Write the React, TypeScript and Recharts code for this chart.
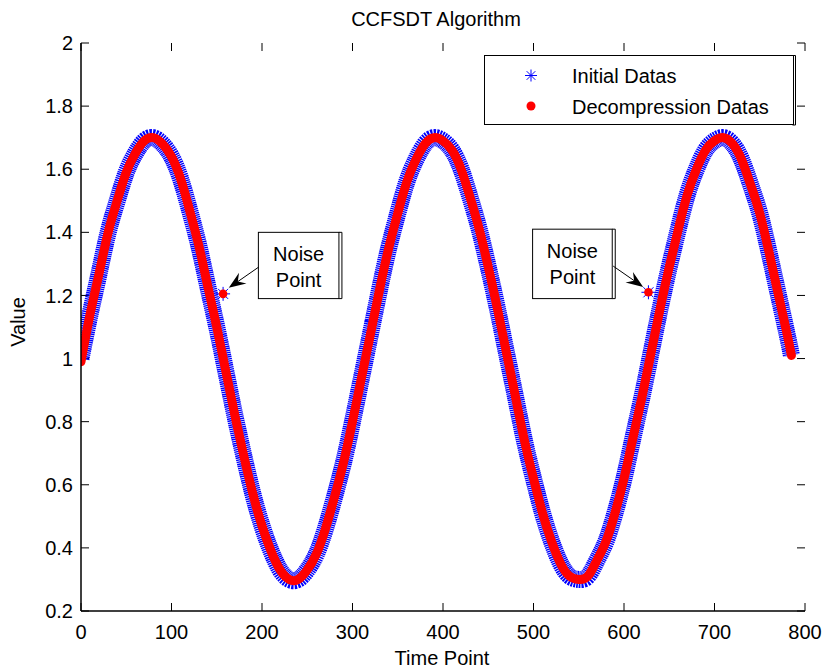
import React from 'react';
import {
  ComposedChart,
  Line,
  Scatter,
  XAxis,
  YAxis,
  ReferenceArea,
  ReferenceLine,
  Legend,
} from 'recharts';

// ---------- data ----------
const timePoints = [
  0, 10, 20, 30, 40, 50, 60, 70, 80, 90,
  100, 110, 120, 130, 140, 150, 160, 170, 180, 190,
  200, 210, 220, 230, 240, 250, 260, 270, 280, 290,
  300, 310, 320, 330, 340, 350, 360, 370, 380, 390,
  400, 410, 420, 430, 440, 450, 460, 470, 480, 490,
  500, 510, 520, 530, 540, 550, 560, 570, 580, 590,
  600, 610, 620, 630, 640, 650, 660, 670, 680, 690,
  700, 710, 720, 730, 740, 750, 760, 770, 780, 785,
];

const initialValues = [
  1.0, 1.14, 1.27, 1.4, 1.5, 1.59, 1.65, 1.69, 1.7, 1.68,
  1.64, 1.57, 1.47, 1.36, 1.23, 1.1, 0.96, 0.82, 0.69, 0.57,
  0.47, 0.39, 0.33, 0.3, 0.3, 0.33, 0.38, 0.46, 0.56, 0.67,
  0.8, 0.94, 1.08, 1.22, 1.35, 1.46, 1.56, 1.63, 1.68, 1.7,
  1.69, 1.66, 1.6, 1.51, 1.41, 1.29, 1.16, 1.02, 0.88, 0.74,
  0.62, 0.51, 0.42, 0.35, 0.31, 0.3, 0.31, 0.36, 0.42, 0.51,
  0.62, 0.75, 0.88, 1.02, 1.16, 1.29, 1.41, 1.52, 1.6, 1.66,
  1.69, 1.7, 1.68, 1.63, 1.55, 1.46, 1.34, 1.21, 1.08, 1.01,
];

const decompressionValues = [
  0.99, 1.14, 1.27, 1.4, 1.5, 1.59, 1.65, 1.69, 1.7, 1.68,
  1.64, 1.57, 1.47, 1.36, 1.23, 1.1, 0.96, 0.82, 0.69, 0.57,
  0.47, 0.39, 0.33, 0.3, 0.3, 0.33, 0.38, 0.46, 0.56, 0.67,
  0.8, 0.94, 1.08, 1.22, 1.35, 1.46, 1.56, 1.63, 1.68, 1.7,
  1.69, 1.66, 1.6, 1.51, 1.41, 1.29, 1.16, 1.02, 0.88, 0.74,
  0.62, 0.51, 0.42, 0.35, 0.31, 0.3, 0.31, 0.36, 0.42, 0.51,
  0.62, 0.75, 0.88, 1.02, 1.16, 1.29, 1.41, 1.52, 1.6, 1.66,
  1.69, 1.7, 1.68, 1.63, 1.55, 1.46, 1.34, 1.21, 1.08, 1.01,
];

const noiseTimes = [157, 627];
const noiseInitial = [1.205, 1.21];
const noiseDecompressed = [1.205, 1.21];

const xTicks = [0, 100, 200, 300, 400, 500, 600, 700, 800];
const yTicks = [0.2, 0.4, 0.6, 0.8, 1, 1.2, 1.4, 1.6, 1.8, 2];

const seriesNames = ['Initial Datas', 'Decompression Datas'];
const titleText = 'CCFSDT Algorithm';
const xLabelText = 'Time Point';
const yLabelText = 'Value';
const noteLines = ['Noise', 'Point'];

// annotation boxes and arrows, in data coordinates
const noteBoxes = [
  { x1: 196, x2: 285, y1: 1.19, y2: 1.4 },
  { x1: 499, x2: 587, y1: 1.19, y2: 1.41 },
];
const noteArrows = [
  { from: { x: 196.4, y: 1.29 }, to: { x: 163.3, y: 1.224 } },
  { from: { x: 588.1, y: 1.293 }, to: { x: 621.2, y: 1.227 } },
];

// ---------- derived tables ----------
const curveData = timePoints.map((t, i) => ({
  t,
  initial: initialValues[i],
  decompressed: decompressionValues[i],
}));
const noiseData = noiseTimes.map((t, i) => ({
  t,
  initial: noiseInitial[i],
  decompressed: noiseDecompressed[i],
}));

const FONT = '"Liberation Sans", Arial, Helvetica, sans-serif';
const BLUE = '#0000ff';
const RED = '#ff0000';
const TICK_LEN = 8;

const Star = ({ cx, cy, r = 6 }: any) => {
  if (cx == null || cy == null) return null;
  const d = r * 0.72;
  return (
    <g stroke={BLUE} strokeWidth={1}>
      <line x1={cx - r} y1={cy} x2={cx + r} y2={cy} />
      <line x1={cx} y1={cy - r} x2={cx} y2={cy + r} />
      <line x1={cx - d} y1={cy - d} x2={cx + d} y2={cy + d} />
      <line x1={cx - d} y1={cy + d} x2={cx + d} y2={cy - d} />
    </g>
  );
};

const RedDot = ({ cx, cy }: any) => {
  if (cx == null || cy == null) return null;
  return <circle cx={cx} cy={cy} r={4.3} fill={RED} />;
};

// inward tick marks at both ends of a vertical reference line
const VTicks = (props: any) => {
  const { x1, y1, y2 } = props;
  if ([x1, y1, y2].some((v) => v == null || isNaN(v))) return null;
  const top = Math.min(y1, y2);
  const bottom = Math.max(y1, y2);
  return (
    <g stroke="#000" strokeWidth={1}>
      <line x1={x1} y1={bottom} x2={x1} y2={bottom - TICK_LEN} />
      <line x1={x1} y1={top} x2={x1} y2={top + TICK_LEN} />
    </g>
  );
};
// inward tick marks at both ends of a horizontal reference line
const HTicks = (props: any) => {
  const { x1, x2, y1 } = props;
  if ([x1, x2, y1].some((v) => v == null || isNaN(v))) return null;
  const left = Math.min(x1, x2);
  const right = Math.max(x1, x2);
  return (
    <g stroke="#000" strokeWidth={1}>
      <line x1={left} y1={y1} x2={left + TICK_LEN} y2={y1} />
      <line x1={right} y1={y1} x2={right - TICK_LEN} y2={y1} />
    </g>
  );
};

const ArrowShape = (props: any) => {
  const { x1, y1, x2, y2 } = props;
  if ([x1, y1, x2, y2].some((v) => v == null || isNaN(v))) return null;
  const dx = x2 - x1;
  const dy = y2 - y1;
  const len = Math.hypot(dx, dy) || 1;
  const ux = dx / len;
  const uy = dy / len;
  const px = -uy;
  const py = ux;
  const L = 17;
  const W = 6.5;
  const N = 11;
  const bx = x2 - ux * L;
  const by = y2 - uy * L;
  const nx = x2 - ux * N;
  const ny = y2 - uy * N;
  const pts = [
    [x2, y2],
    [bx + px * W, by + py * W],
    [nx, ny],
    [bx - px * W, by - py * W],
  ]
    .map((p) => p.join(','))
    .join(' ');
  return (
    <g>
      <line x1={x1} y1={y1} x2={nx} y2={ny} stroke="#000" strokeWidth={1} />
      <polygon points={pts} fill="#000" stroke="none" />
    </g>
  );
};

const NoteBox = (props: any) => {
  const { x, y, width, height } = props;
  if ([x, y, width, height].some((v) => v == null || isNaN(v))) return null;
  const cx = x + width / 2;
  const bx = x + width + 3;
  return (
    <g>
      <rect x={x} y={y} width={width} height={height} fill="#fff" stroke="#000" strokeWidth={1} />
      <line x1={bx} y1={y} x2={bx} y2={y + height} stroke="#000" strokeWidth={1} />
      <line x1={bx - 3} y1={y} x2={bx} y2={y} stroke="#000" strokeWidth={1} />
      <line x1={bx - 3} y1={y + height} x2={bx} y2={y + height} stroke="#000" strokeWidth={1} />
      <text x={cx} y={y + 29} textAnchor="middle" fontSize={20} fontFamily={FONT} fill="#000">
        {noteLines[0]}
      </text>
      <text x={cx} y={y + 55} textAnchor="middle" fontSize={20} fontFamily={FONT} fill="#000">
        {noteLines[1]}
      </text>
    </g>
  );
};

const renderLegend = () => (
  <svg width={316} height={72} style={{ display: 'block', overflow: 'visible' }}>
    <rect x={0.5} y={0.5} width={309} height={69} fill="#fff" stroke="#000" strokeWidth={1} />
    <line x1={311.5} y1={0.5} x2={311.5} y2={70} stroke="#000" strokeWidth={1} />
    <line x1={308.5} y1={0.5} x2={311.5} y2={0.5} stroke="#000" strokeWidth={1} />
    <line x1={308.5} y1={70} x2={311.5} y2={70} stroke="#000" strokeWidth={1} />
    <Star cx={47} cy={20.5} r={6} />
    <circle cx={47} cy={51} r={4.5} fill={RED} />
    <text x={88} y={28} fontSize={20} fontFamily={FONT} fill="#000">
      {seriesNames[0]}
    </text>
    <text x={88} y={59} fontSize={20} fontFamily={FONT} fill="#000">
      {seriesNames[1]}
    </text>
  </svg>
);

const XLabel = () => (
  <text x={442} y={665} textAnchor="middle" fontSize={20} fontFamily={FONT} fill="#000">
    {xLabelText}
  </text>
);
const YLabel = () => (
  <text
    x={25}
    y={322}
    textAnchor="middle"
    fontSize={20}
    fontFamily={FONT}
    fill="#000"
    transform="rotate(-90 25 322)"
  >
    {yLabelText}
  </text>
);

const tickStyle = { fontSize: 20, fill: '#000', fontFamily: FONT };
const axisLineStyle = { stroke: '#000', strokeWidth: 1.5 };

export default function App() {
  return (
    <div style={{ position: 'absolute', left: 0, top: 0, width: 825, height: 670, background: '#fff' }}>
      <svg
        width={825}
        height={40}
        style={{ position: 'absolute', left: 0, top: 0, pointerEvents: 'none', zIndex: 2 }}
      >
        <text x={436} y={26} textAnchor="middle" fontSize={20} fontFamily={FONT} fill="#000">
          {titleText}
        </text>
      </svg>
      <ComposedChart
        width={825}
        height={670}
        margin={{ top: 43, right: 20, bottom: 0, left: 0 }}
        style={{ fontFamily: FONT }}
      >
        <XAxis
          dataKey="t"
          type="number"
          domain={[0, 800]}
          ticks={xTicks}
          allowDataOverflow
          height={59}
          tickSize={0}
          tickMargin={14}
          tick={tickStyle}
          axisLine={axisLineStyle}
          tickLine={false}
          interval={0}
          label={<XLabel />}
        />
        <XAxis
          xAxisId="top"
          orientation="top"
          dataKey="t"
          type="number"
          domain={[0, 800]}
          ticks={xTicks}
          allowDataOverflow
          height={0}
          tickSize={0}
          tick={false}
          axisLine={axisLineStyle}
          tickLine={false}
          interval={0}
        />
        <YAxis
          type="number"
          domain={[0.2, 2]}
          ticks={yTicks}
          allowDataOverflow
          width={81}
          tickSize={0}
          tickMargin={8}
          tick={tickStyle}
          axisLine={axisLineStyle}
          tickLine={false}
          interval={0}
          label={<YLabel />}
        />
        <YAxis
          yAxisId="right"
          orientation="right"
          type="number"
          domain={[0.2, 2]}
          ticks={yTicks}
          allowDataOverflow
          width={0}
          tickSize={0}
          tick={false}
          axisLine={axisLineStyle}
          tickLine={false}
          interval={0}
        />

        {xTicks.map((t) => (
          <ReferenceLine key={'xt' + t} x={t} shape={VTicks} ifOverflow="visible" />
        ))}
        {yTicks.map((v) => (
          <ReferenceLine key={'yt' + v} y={v} shape={HTicks} ifOverflow="visible" />
        ))}

        {noteBoxes.map((b, i) => (
          <ReferenceArea
            key={'box' + i}
            x1={b.x1}
            x2={b.x2}
            y1={b.y1}
            y2={b.y2}
            shape={<NoteBox />}
          />
        ))}
        {noteArrows.map((a, i) => (
          <ReferenceLine key={'arrow' + i} segment={[a.from, a.to]} shape={ArrowShape} />
        ))}

        <Line
          data={curveData}
          dataKey="initial"
          name={seriesNames[0]}
          type="natural"
          stroke={BLUE}
          strokeWidth={17}
          strokeDasharray="1.4 0.7"
          dot={false}
          activeDot={false}
          isAnimationActive={false}
        />
        <Line
          data={curveData}
          dataKey="decompressed"
          name={seriesNames[1]}
          type="natural"
          stroke={RED}
          strokeWidth={9}
          strokeLinecap="round"
          dot={false}
          activeDot={false}
          isAnimationActive={false}
        />
        <Scatter
          data={noiseData}
          dataKey="initial"
          shape={<Star r={7} />}
          isAnimationActive={false}
        />
        <Scatter
          data={noiseData}
          dataKey="decompressed"
          shape={<RedDot />}
          isAnimationActive={false}
        />

        <Legend
          layout="horizontal"
          verticalAlign="middle"
          align="center"
          wrapperStyle={{ left: 484, top: 55, width: 316, height: 72 }}
          content={renderLegend}
        />
      </ComposedChart>
    </div>
  );
}
